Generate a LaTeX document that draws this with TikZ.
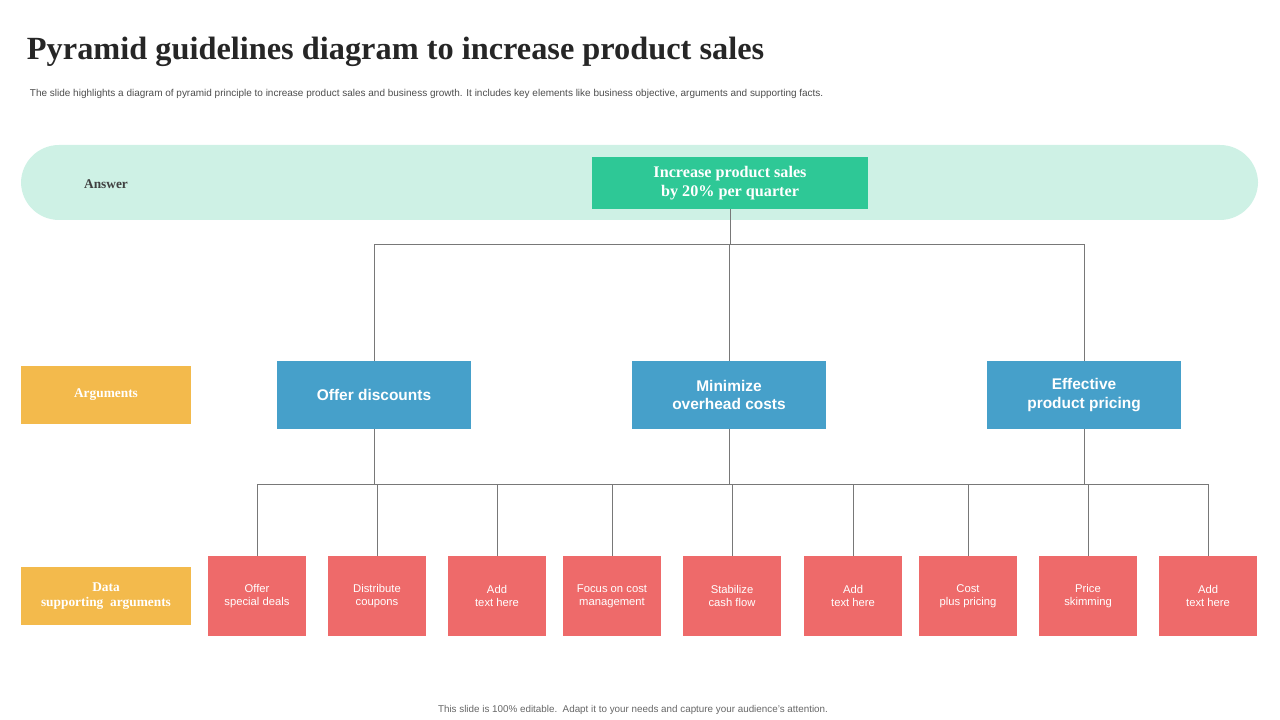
\documentclass[tikz,border=0pt]{standalone}
\usepackage{fontspec}
\setmainfont{Liberation Serif}
\setsansfont{Liberation Sans}
\usetikzlibrary{positioning}
\definecolor{bandmint}{RGB}{206,241,229}
\definecolor{answergreen}{RGB}{46,200,150}
\definecolor{argblue}{RGB}{70,160,202}
\definecolor{factred}{RGB}{238,106,106}
\definecolor{labelgold}{RGB}{243,186,76}
\definecolor{linkgray}{RGB}{120,120,120}
\tikzset{
  answerbox/.style={rectangle, fill=answergreen, text=white, minimum width=6.9cm, minimum height=1.3cm, align=center, font=\fontsize{11.5}{13}\selectfont\bfseries},
  argbox/.style={rectangle, fill=argblue, text=white, minimum width=4.87cm, minimum height=1.68cm, align=center, font=\sffamily\fontsize{11}{13}\selectfont\bfseries},
  factbox/.style={rectangle, fill=factred, text=white, minimum width=2.43cm, minimum height=2cm, align=center, font=\sffamily\fontsize{8}{9.5}\selectfont},
  sidelabel/.style={rectangle, fill=labelgold, text=white, minimum width=4.25cm, minimum height=1.47cm, align=center, font=\fontsize{9.5}{11}\selectfont\bfseries},
  link/.style={draw=linkgray, line width=0.5pt}
}
\begin{document}
\begin{tikzpicture}[x=0.025cm, y=-0.025cm]
  \useasboundingbox (0,0) rectangle (1280,720);
  % title and notes
  \node[anchor=west, font=\fontsize{23}{26}\selectfont\bfseries, text=black!85] (title) at (22,52) {Pyramid guidelines diagram to increase product sales};
  \node[anchor=west, font=\sffamily\fontsize{7.1}{8}\selectfont, text=black!70] (subtitle) at (25,94) {The slide highlights a diagram of pyramid principle to increase product sales and business growth. It includes key elements like business objective, arguments and supporting facts.};
  \node[font=\sffamily\fontsize{7}{8}\selectfont, text=black!60] (footer) at (633,710) {This slide is 100\% editable.\ \ Adapt it to your needs and capture your audience's attention.};

  % answer band
  \fill[bandmint, rounded corners=0.95cm] (21,145) rectangle (1258,220);
  \node[font=\fontsize{9.5}{11}\selectfont\bfseries, text=black!75] (answer) at (106,184) {Answer};
  \node[answerbox] (goal) at (730,183) {Increase product sales\\by 20\% per quarter};

  % side labels
  \node[sidelabel] (arguments) at (106,395) {Arguments};
  \node[sidelabel] (data) at (106,596) {Data\\supporting\ \ arguments};

  % arguments
  \node[argbox] (discounts) at (374,395) {Offer discounts};
  \node[argbox] (overhead) at (729,395) {Minimize\\overhead costs};
  \node[argbox] (pricing) at (1084,395) {Effective\\product pricing};

  % facts
  \node[factbox] (f1) at (257,596) {Offer\\special deals};
  \node[factbox] (f2) at (377,596) {Distribute\\coupons};
  \node[factbox] (f3) at (497,596) {Add\\text here};
  \node[factbox] (f4) at (612,596) {Focus on cost\\management};
  \node[factbox] (f5) at (732,596) {Stabilize\\cash flow};
  \node[factbox] (f6) at (853,596) {Add\\text here};
  \node[factbox] (f7) at (968,596) {Cost\\plus pricing};
  \node[factbox] (f8) at (1088,596) {Price\\skimming};
  \node[factbox] (f9) at (1208,596) {Add\\text here};

  % connectors
  \coordinate (upbus) at (730,244);
  \coordinate (lowbus) at (732,484);
  \draw[link] (goal.south) -- (upbus);
  \foreach \a in {discounts,overhead,pricing}
    \draw[link] (upbus) -| (\a.north);
  \foreach \a in {discounts,overhead,pricing}
    \draw[link] (\a.south) -- (\a.south |- lowbus);
  \foreach \f in {f1,f2,f3,f4,f5,f6,f7,f8,f9}
    \draw[link] (lowbus) -| (\f.north);
\end{tikzpicture}
\end{document}
